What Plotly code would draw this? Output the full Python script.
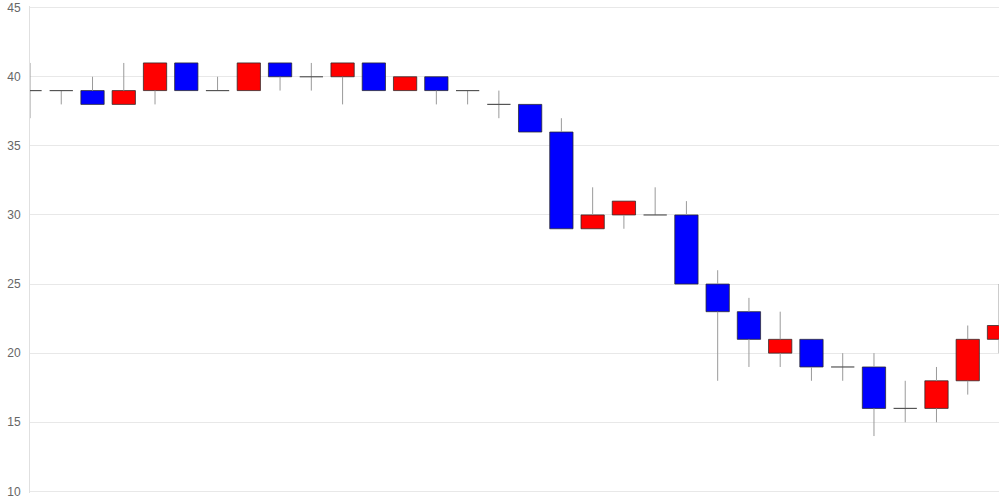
import plotly.graph_objects as go

idx = list(range(32))
opens  = [39, 39, 39, 38, 39, 41, 39, 39, 41, 40, 40, 41, 39, 40, 39, 38,
          38, 36, 29, 30, 30, 30, 25, 23, 20, 21, 19, 19, 16, 16, 18, 21]
highs  = [41, 39, 40, 41, 41, 41, 40, 41, 41, 41, 41, 41, 40, 40, 39, 39,
          38, 37, 32, 31, 32, 31, 26, 24, 23, 21, 20, 20, 18, 19, 22, 25]
lows   = [37, 38, 38, 38, 38, 39, 39, 39, 39, 39, 38, 39, 39, 38, 38, 37,
          36, 29, 29, 29, 30, 25, 18, 19, 19, 18, 18, 14, 15, 15, 17, 20]
closes = [39, 39, 38, 39, 41, 39, 39, 41, 40, 40, 41, 39, 40, 39, 39, 38,
          36, 29, 30, 31, 30, 25, 23, 21, 21, 19, 19, 16, 16, 18, 21, 22]
y_ticks = [10, 15, 20, 25, 30, 35, 40, 45]

UP = "#ff0000"
DOWN = "#0000ff"
BODY_W = 0.745

fig = go.Figure()

# wicks (upper and lower, so they do not cross the bodies)
wx, wy = [], []
for i, o, h, l, c in zip(idx, opens, highs, lows, closes):
    top, bot = max(o, c), min(o, c)
    if h > top:
        wx += [i, i, None]
        wy += [top, h, None]
    if l < bot:
        wx += [i, i, None]
        wy += [l, bot, None]
fig.add_trace(go.Scatter(x=wx, y=wy, mode="lines",
                         line=dict(color="#9a9a9a", width=1),
                         hoverinfo="skip", showlegend=False))

# bodies
bx, bbase, bh, bcol = [], [], [], []
dx, dy = [], []
for i, o, c in zip(idx, opens, closes):
    if o == c:
        dx += [i - BODY_W / 2, i + BODY_W / 2, None]
        dy += [o, o, None]
    else:
        bx.append(i)
        bbase.append(min(o, c))
        bh.append(abs(c - o))
        bcol.append(UP if c > o else DOWN)

fig.add_trace(go.Bar(x=bx, y=bh, base=bbase, width=BODY_W,
                     marker=dict(color=bcol,
                                 line=dict(color="rgba(40,40,40,0.75)", width=1)),
                     hoverinfo="skip", showlegend=False))
fig.add_trace(go.Scatter(x=dx, y=dy, mode="lines",
                         line=dict(color="#555555", width=1.2),
                         hoverinfo="skip", showlegend=False))

fig.update_layout(
    width=1000, height=500,
    margin=dict(l=30, r=1, t=3, b=4),
    paper_bgcolor="white", plot_bgcolor="white",
    barmode="overlay",
    showlegend=False,
    xaxis=dict(range=[0, 31], showgrid=False, zeroline=False,
               showticklabels=False, ticks="", showline=False),
    yaxis=dict(range=[9.88, 45.12], tickvals=y_ticks,
               ticktext=[str(v) for v in y_ticks],
               showgrid=True, gridcolor="#e8e8e8", gridwidth=1,
               zeroline=False, showline=True, linecolor="#e0e0e0", linewidth=1,
               ticks="outside", ticklen=6, tickcolor="rgba(0,0,0,0)",
               ticklabeloverflow="allow",
               tickfont=dict(family="Liberation Sans, Arial", size=12, color="#666666")),
)

fig.write_html("out.html", config={"displayModeBar": False},
               post_script="document.body.style.margin='0';document.body.style.padding='0';")
